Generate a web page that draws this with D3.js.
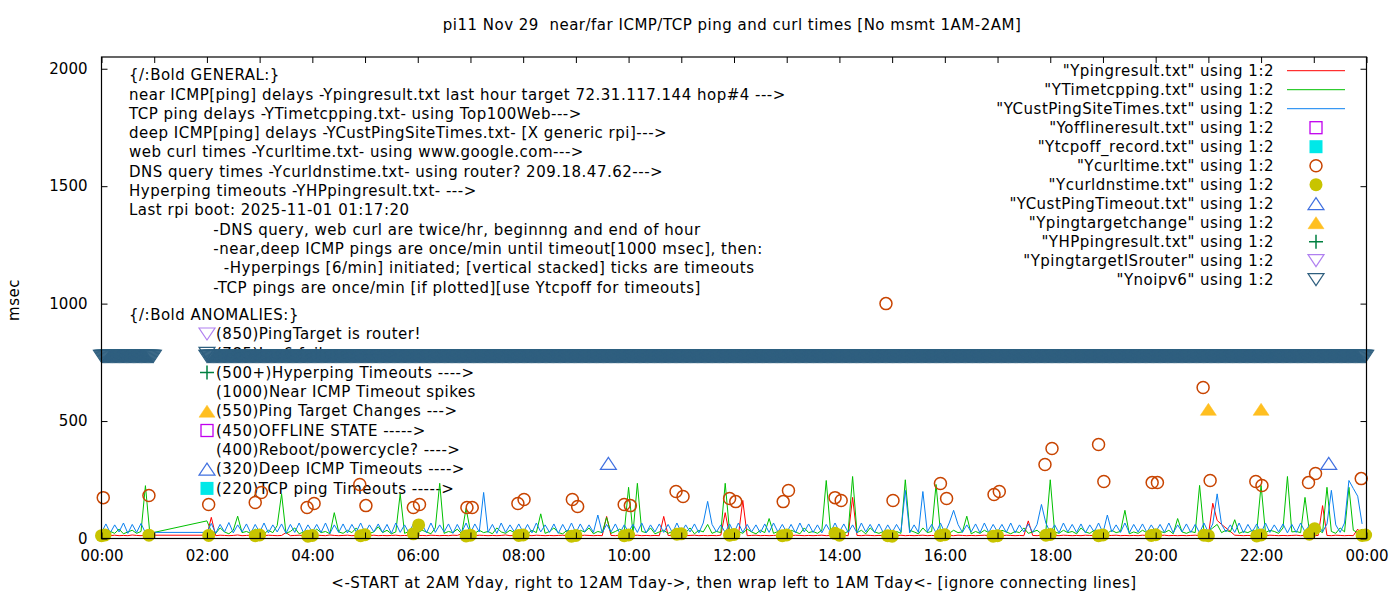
<!DOCTYPE html>
<html>
<head>
<meta charset="utf-8">
<script src="https://cdn.jsdelivr.net/npm/d3@7"></script>
<style>
  body { margin: 0; background: #fff; }
  text { font-family: "DejaVu Sans", sans-serif; font-size: 15px; fill: #000; }
  .lbl { white-space: pre; letter-spacing: 0.5px; }
</style>
</head>
<body>
<div class="chart"></div>
<script>
// Chart data
//= ================================
var titleText = "pi11 Nov 29  near/far ICMP/TCP ping and curl times [No msmt 1AM-2AM]";
var xLabelText = "<-START at 2AM Yday, right to 12AM Tday->, then wrap left to 1AM Tday<- [ignore connecting lines]";
var yLabelText = "msec";

var xTickLabels = ["00:00", "02:00", "04:00", "06:00", "08:00", "10:00", "12:00",
  "14:00", "16:00", "18:00", "20:00", "22:00", "00:00"];
var yTicks = [0, 500, 1000, 1500, 2000];

// hours with data (no msmt 1AM-2AM); line series are sampled every 5 min
var sampleHours = [0, 2, 3, 4, 5, 6, 7, 8, 9, 10, 11, 12, 13, 14, 15, 16, 17, 18, 19, 20, 21, 22, 23];

// near ICMP ping (Ypingresult.txt), one row per hour
var nearPing = [
  12,13,12,14,12,13,12,15,13,12,14,14,
  14,90,12,14,13,12,13,15,12,13,14,12,
  13,12,14,13,12,13,25,12,13,14,12,13,
  12,14,13,12,15,13,12,13,14,12,13,12,
  13,12,14,12,13,12,13,14,12,13,12,15,
  12,13,12,14,13,12,13,12,14,13,20,12,
  13,12,14,13,12,13,12,13,15,12,13,12,
  12,13,12,14,13,12,13,12,13,14,12,13,
  13,12,14,13,12,13,12,94,13,12,14,13,
  12,13,14,12,13,12,13,12,94,13,12,14,
  13,12,13,14,12,13,12,13,12,14,110,13,
  12,13,162,12,13,14,12,13,12,13,14,12,
  13,12,14,13,12,13,12,13,14,12,13,12,
  12,13,12,175,13,12,14,13,12,13,12,13,
  13,12,14,12,13,12,13,14,12,13,12,13,
  12,13,12,14,13,12,13,12,13,14,12,13,
  13,12,14,13,12,13,12,75,13,12,14,13,
  12,13,12,14,13,12,13,12,14,13,12,13,
  13,12,13,14,12,13,12,13,12,14,13,12,
  12,13,14,12,13,12,13,12,13,14,12,13,
  13,150,77,60,45,30,14,13,12,13,12,13,
  13,12,14,13,12,13,12,13,14,12,13,12,
  12,13,140,13,12,14,13,12,13,12,40,12
];

// TCP ping (YTimetcpping.txt)
var tcpPing = [
  25,18,30,22,40,20,28,35,22,30,225,22,
  75,30,22,45,28,20,35,95,25,30,22,40,
  28,20,35,25,55,190,22,30,45,20,28,35,
  22,40,25,30,20,110,28,22,35,25,45,20,
  30,22,28,50,25,35,20,28,190,22,30,40,
  25,35,28,20,45,235,22,30,25,40,20,128,
  30,22,35,25,30,20,45,28,22,35,25,30,
  28,20,35,25,105,22,30,45,25,20,35,28,
  22,35,28,45,20,30,25,90,22,30,40,25,
  218,22,235,30,25,45,20,28,35,22,30,25,
  30,25,45,20,35,28,60,22,30,25,235,28,
  25,30,22,40,28,20,35,25,85,22,30,28,
  22,35,28,20,45,25,30,22,35,247,28,30,
  28,22,30,264,25,35,20,45,28,22,30,25,
  25,30,22,250,35,28,20,45,25,30,230,28,
  30,22,35,25,28,95,20,30,22,35,25,28,
  22,35,28,20,30,25,45,22,28,35,20,30,
  250,28,22,35,25,30,20,45,28,22,35,25,
  28,22,35,25,30,120,20,28,22,35,25,30,
  22,30,25,35,20,85,28,22,30,25,226,28,
  30,45,60,25,35,28,80,22,30,25,35,28,
  226,25,35,30,22,45,264,28,30,25,175,30,
  28,35,25,218,30,22,45,28,218,35,25,40
];

// deep ICMP ping (YCustPingSiteTimes.txt)
var deepPing = [
  26,62,24,58,28,66,22,60,26,64,24,26,
  26,64,22,60,28,68,24,58,28,62,23,60,
  26,66,24,58,28,62,22,60,26,66,24,58,
  28,60,26,66,22,58,26,62,24,60,28,66,
  24,58,28,62,26,60,22,66,26,58,24,62,
  28,60,24,66,26,58,28,62,22,60,26,66,
  24,62,28,196,26,60,22,66,26,58,28,62,
  26,60,24,66,28,58,26,62,22,60,26,66,
  24,62,28,58,26,100,24,60,28,62,22,58,
  28,60,26,66,24,58,28,62,26,60,24,66,
  26,58,28,62,24,66,158,60,28,58,26,62,
  24,66,26,60,28,58,24,62,26,66,28,60,
  26,60,24,66,28,62,26,58,24,60,28,66,
  28,62,26,58,24,66,28,60,26,62,24,58,
  26,60,28,205,24,58,26,200,28,60,24,66,
  24,66,120,60,26,58,28,62,24,66,26,60,
  28,60,26,66,24,58,28,62,26,60,145,66,
  26,58,24,66,28,60,26,62,24,58,28,66,
  24,100,28,58,26,66,24,60,28,62,26,58,
  28,60,26,66,24,58,28,62,26,60,24,66,
  26,62,190,60,28,58,26,66,24,60,28,62,
  24,66,26,58,28,62,24,60,26,66,28,58,
  26,60,28,62,205,58,26,66,247,213,180,62
];

// Ynoipv6: one flag per minute of each hour in sampleHours (1 = ipv6 failed)
var noIpv6Flags = [
  "111111111111111111111111111111111111111111111111111111111111",
  "111111111111111111111111111111111111111111111111111111111111",
  "111111111111111111111111111111111111111111111111111111111111",
  "111111111111111111111111111111111111111111111111111111111111",
  "111111111111111111111111111111111111111111111111111111111111",
  "111111111111111111111111111111111111111111111111111111111111",
  "111111111111111111111111111111111111111111111111111111111111",
  "111111111111111111111111111111111111111111111111111111111111",
  "111111111111111111111111111111111111111111111111111111111111",
  "111111111111111111111111111111111111111111111111111111111111",
  "111111111111111111111111111111111111111111111111111111111111",
  "111111111111111111111111111111111111111111111111111111111111",
  "111111111111111111111111111111111111111111111111111111111111",
  "111111111111111111111111111111111111111111111111111111111111",
  "111111111111111111111111111111111111111111111111111111111111",
  "111111111111111111111111111111111111111111111111111111111111",
  "111111111111111111111111111111111111111111111111111111111111",
  "111111111111111111111111111111111111111111111111111111111111",
  "111111111111111111111111111111111111111111111111111111111111",
  "111111111111111111111111111111111111111111111111111111111111",
  "111111111111111111111111111111111111111111111111111111111111",
  "111111111111111111111111111111111111111111111111111111111111",
  "111111111111111111111111111111111111111111111111111111111111"
];
var noIpv6Value = 775;

// web curl times (Ycurltime.txt)
var curlTimes = ["00:02","00:54","02:02","02:55","03:02","03:54","04:02","04:54","05:01","05:55",
  "06:02","06:56","07:02","07:54","08:01","08:56","09:02","09:55","10:02","10:54","11:02","11:55",
  "12:02","12:56","13:02","13:55","14:02","14:53","15:01","15:55","16:02","16:56","17:02","17:54",
  "18:02","18:55","19:01","19:56","20:02","20:54","21:02","21:54","22:01","22:54","23:02","23:54"];
var curlValues = [174,183,145,153,196,132,149,230,140,132,
  145,132,132,149,166,166,136,145,140,200,179,170,
  157,157,204,174,162,1000,162,234,170,187,200,315,
  383,400,243,238,238,643,247,243,226,238,277,255];

// DNS query times (Ycurldnstime.txt)
var dnsTimes = ["00:00","00:04","00:54","02:02","02:55","03:00","03:55","04:00","04:55","05:00",
  "05:55","06:01","06:55","07:00","07:55","08:00","08:55","09:00","09:55","10:00","10:55","11:00",
  "11:55","12:00","12:55","13:00","13:55","14:00","14:55","15:00","15:55","16:00","16:55","17:00",
  "17:55","18:00","18:55","19:00","19:55","20:00","20:55","21:00","21:55","22:00","22:55","23:01",
  "23:55","23:59"];
var dnsValues = [12,15,14,13,12,15,10,13,12,16,
  20,58,11,14,13,15,10,13,12,15,18,20,
  14,17,12,15,22,14,12,10,13,16,10,12,
  14,17,12,15,13,16,14,12,11,15,18,42,
  13,15];

// deep ICMP timeouts (YCustPingTimeout.txt)
var custTimeoutTimes = ["09:37", "23:17"];
var custTimeoutValues = [320, 320];

// ping target changes (Ypingtargetchange)
var targetChangeTimes = ["21:00", "22:00"];
var targetChangeValues = [550, 550];

var legendLabels = [
  '"Ypingresult.txt" using 1:2',
  '"YTimetcpping.txt" using 1:2',
  '"YCustPingSiteTimes.txt" using 1:2',
  '"Yofflineresult.txt" using 1:2',
  '"Ytcpoff_record.txt" using 1:2',
  '"Ycurltime.txt" using 1:2',
  '"Ycurldnstime.txt" using 1:2',
  '"YCustPingTimeout.txt" using 1:2',
  '"Ypingtargetchange" using 1:2',
  '"YHPpingresult.txt" using 1:2',
  '"YpingtargetISrouter" using 1:2',
  '"Ynoipv6" using 1:2'
];
var legendKinds = ["near", "tcp", "deep", "offline", "tcpoff", "curl", "dns",
  "custTimeout", "target", "hp", "isrouter", "noipv6"];

var generalLines = [
  "{/:Bold GENERAL:}",
  "near ICMP[ping] delays -Ypingresult.txt last hour target 72.31.117.144 hop#4 --->",
  "TCP ping delays -YTimetcpping.txt- using Top100Web--->",
  "deep ICMP[ping] delays -YCustPingSiteTimes.txt- [X generic rpi]--->",
  "web curl times -Ycurltime.txt- using www.google.com--->",
  "DNS query times -Ycurldnstime.txt- using router? 209.18.47.62--->",
  "Hyperping timeouts -YHPpingresult.txt- --->",
  "Last rpi boot: 2025-11-01 01:17:20",
  "                -DNS query, web curl are twice/hr, beginnng and end of hour",
  "                -near,deep ICMP pings are once/min until timeout[1000 msec], then:",
  "                  -Hyperpings [6/min] initiated; [vertical stacked] ticks are timeouts",
  "                -TCP pings are once/min [if plotted][use Ytcpoff for timeouts]"
];
var anomalyTitle = "{/:Bold ANOMALIES:}";
var anomalyLines = [
  "(850)PingTarget is router!",
  "(785)Ipv6 failures ---->",
  "(500+)Hyperping Timeouts ---->",
  "(1000)Near ICMP Timeout spikes",
  "(550)Ping Target Changes --->",
  "(450)OFFLINE STATE ----->",
  "(400)Reboot/powercycle? ---->",
  "(320)Deep ICMP Timeouts ---->",
  "(220)TCP ping Timeouts ----->"
];
var anomalyKinds = ["isrouter", "noipv6", "hp", null, "target", "offline", null, "custTimeout", "tcpoff"];

// Step 1: Set up the chart
//= ================================
var svgWidth = 1400;
var svgHeight = 600;
var margin = { top: 57, right: 33.5, bottom: 61.5, left: 101.5 };
var width = svgWidth - margin.left - margin.right;
var height = svgHeight - margin.top - margin.bottom;

var colors = {
  near: "#ff0000", tcp: "#00c000", deep: "#0a80f0", offline: "#c000ee", tcpoff: "#00e8e8",
  curl: "#c84400", dns: "#c8c400", custTimeout: "#4070e0", target: "#ffbf20",
  hp: "#008040", isrouter: "#b080f0", noipv6: "#2f5f7f"
};

var svg = d3.select(".chart").append("svg")
  .attr("width", svgWidth)
  .attr("height", svgHeight);

// labels group first so the data is drawn over it
var labelGroup = svg.append("g");

var chartGroup = svg.append("g")
  .attr("transform", `translate(${margin.left}, ${margin.top})`);

function toMinutes(s) {
  var p = s.split(":");
  return +p[0] * 60 + +p[1];
}

// Step 2: Scales
//= ================================
var xScale = d3.scaleLinear().domain([0, 1440]).range([0, width]);
var yScale = d3.scaleLinear().domain([0, 2050]).range([height, 0]);

var sampleTimes = [];
sampleHours.forEach(function(h) {
  for (var k = 0; k < 12; k++) sampleTimes.push(h * 60 + k * 5);
});

// marker shapes
function drawMarker(g, kind, cx, cy) {
  var c = colors[kind];
  if (kind === "offline") {
    g.append("rect").attr("x", cx - 6).attr("y", cy - 6).attr("width", 12).attr("height", 12)
      .attr("fill", "none").attr("stroke", c).attr("stroke-width", 1.3);
  } else if (kind === "tcpoff") {
    g.append("rect").attr("x", cx - 6.5).attr("y", cy - 6.5).attr("width", 13).attr("height", 13)
      .attr("fill", c);
  } else if (kind === "curl") {
    g.append("circle").attr("cx", cx).attr("cy", cy).attr("r", 6)
      .attr("fill", "none").attr("stroke", c).attr("stroke-width", 1.5);
  } else if (kind === "dns") {
    g.append("circle").attr("cx", cx).attr("cy", cy).attr("r", 6.5).attr("fill", c);
  } else if (kind === "custTimeout" || kind === "target") {
    g.append("path")
      .attr("d", `M${cx - 8},${cy + 6}L${cx + 8},${cy + 6}L${cx},${cy - 6}Z`)
      .attr("fill", kind === "target" ? c : "none")
      .attr("stroke", c).attr("stroke-width", kind === "target" ? 0.5 : 1.2);
  } else if (kind === "isrouter" || kind === "noipv6") {
    g.append("path")
      .attr("d", `M${cx - 8},${cy - 6}L${cx + 8},${cy - 6}L${cx},${cy + 6}Z`)
      .attr("fill", "none")
      .attr("stroke", c).attr("stroke-width", 1.2);
  } else if (kind === "hp") {
    g.append("path")
      .attr("d", `M${cx - 7},${cy}H${cx + 7}M${cx},${cy - 7}V${cy + 7}`)
      .attr("stroke", c).attr("stroke-width", 1.5);
  }
}

// Step 3: Labels (behind the data)
//= ================================
generalLines.forEach(function(t, i) {
  labelGroup.append("text").attr("class", "lbl")
    .attr("x", 129).attr("y", 75 + i * 19.3).attr("dy", "0.35em").text(t);
});
labelGroup.append("text").attr("class", "lbl")
  .attr("x", 129).attr("y", 315).attr("dy", "0.35em").text(anomalyTitle);
anomalyLines.forEach(function(t, i) {
  var cy = 334 + i * 19.3;
  labelGroup.append("text").attr("class", "lbl")
    .attr("x", 216).attr("y", cy).attr("dy", "0.35em").text(t);
  if (anomalyKinds[i]) drawMarker(labelGroup, anomalyKinds[i], 207, cy);
});

// Step 4: Lines
//= ================================
var line = d3.line()
  .x(d => xScale(d[0]))
  .y(d => yScale(d[1]));

[["near", nearPing], ["tcp", tcpPing], ["deep", deepPing]].forEach(function(s) {
  chartGroup.append("path")
    .datum(sampleTimes.map((t, i) => [t, s[1][i]]))
    .attr("d", line)
    .attr("fill", "none")
    .attr("stroke", colors[s[0]])
    .attr("stroke-width", 1);
});

// Step 5: Points
//= ================================
curlTimes.forEach(function(t, i) {
  drawMarker(chartGroup, "curl", xScale(toMinutes(t)), yScale(curlValues[i]));
});
dnsTimes.forEach(function(t, i) {
  drawMarker(chartGroup, "dns", xScale(toMinutes(t)), yScale(dnsValues[i]));
});
custTimeoutTimes.forEach(function(t, i) {
  drawMarker(chartGroup, "custTimeout", xScale(toMinutes(t)), yScale(custTimeoutValues[i]));
});
targetChangeTimes.forEach(function(t, i) {
  drawMarker(chartGroup, "target", xScale(toMinutes(t)), yScale(targetChangeValues[i]));
});
noIpv6Flags.forEach(function(row, r) {
  row.split("").forEach(function(f, m) {
    if (f === "1") drawMarker(chartGroup, "noipv6", xScale(sampleHours[r] * 60 + m), yScale(noIpv6Value));
  });
});

// Step 6: Axes and frame
//= ================================
function styleAxis(g) {
  g.select(".domain").remove();
  g.selectAll(".tick line").attr("stroke", "#000");
  g.selectAll("text").attr("font-size", 15).attr("font-family", "DejaVu Sans").attr("fill", "#000");
}
var hourTicks = d3.range(0, 1441, 60);

chartGroup.append("g")
  .attr("transform", `translate(0, ${height})`)
  .call(d3.axisBottom(xScale).tickValues(hourTicks).tickSize(-6).tickPadding(12)
    .tickFormat(d => d % 120 === 0 ? xTickLabels[d / 120] : ""))
  .call(styleAxis);
chartGroup.append("g")
  .call(d3.axisTop(xScale).tickValues(hourTicks).tickSize(-6).tickFormat(""))
  .call(styleAxis);
chartGroup.append("g")
  .call(d3.axisLeft(yScale).tickValues(yTicks).tickSize(-6).tickPadding(14).tickFormat(d3.format("d")))
  .call(styleAxis);
chartGroup.append("g")
  .attr("transform", `translate(${width}, 0)`)
  .call(d3.axisRight(yScale).tickValues(yTicks).tickSize(-6).tickFormat(""))
  .call(styleAxis);

chartGroup.append("rect")
  .attr("width", width).attr("height", height)
  .attr("fill", "none").attr("stroke", "#000").attr("stroke-width", 1.2);

// Step 7: Legend
//= ================================
var legend = svg.append("g");
legendLabels.forEach(function(t, i) {
  var cy = 70.7 + i * 19;
  legend.append("text").attr("class", "lbl").attr("x", 1274).attr("y", cy).attr("dy", "0.35em")
    .attr("text-anchor", "end").text(t);
  var kind = legendKinds[i];
  if (kind === "near" || kind === "tcp" || kind === "deep") {
    legend.append("line").attr("x1", 1287).attr("x2", 1345).attr("y1", cy).attr("y2", cy)
      .attr("stroke", colors[kind]).attr("stroke-width", 1);
  } else {
    drawMarker(legend, kind, 1316, cy);
  }
});

// Step 8: Titles
//= ================================
svg.append("text").attr("class", "lbl").attr("x", 732).attr("y", 25).attr("dy", "0.35em")
  .attr("text-anchor", "middle").text(titleText);
svg.append("text").attr("class", "lbl").attr("x", 734).attr("y", 583).attr("dy", "0.35em")
  .attr("text-anchor", "middle").text(xLabelText);
svg.append("text").attr("class", "lbl").attr("transform", "translate(14, 300) rotate(-90)").attr("dy", "0.35em")
  .attr("text-anchor", "middle").text(yLabelText);
</script>
</body>
</html>
